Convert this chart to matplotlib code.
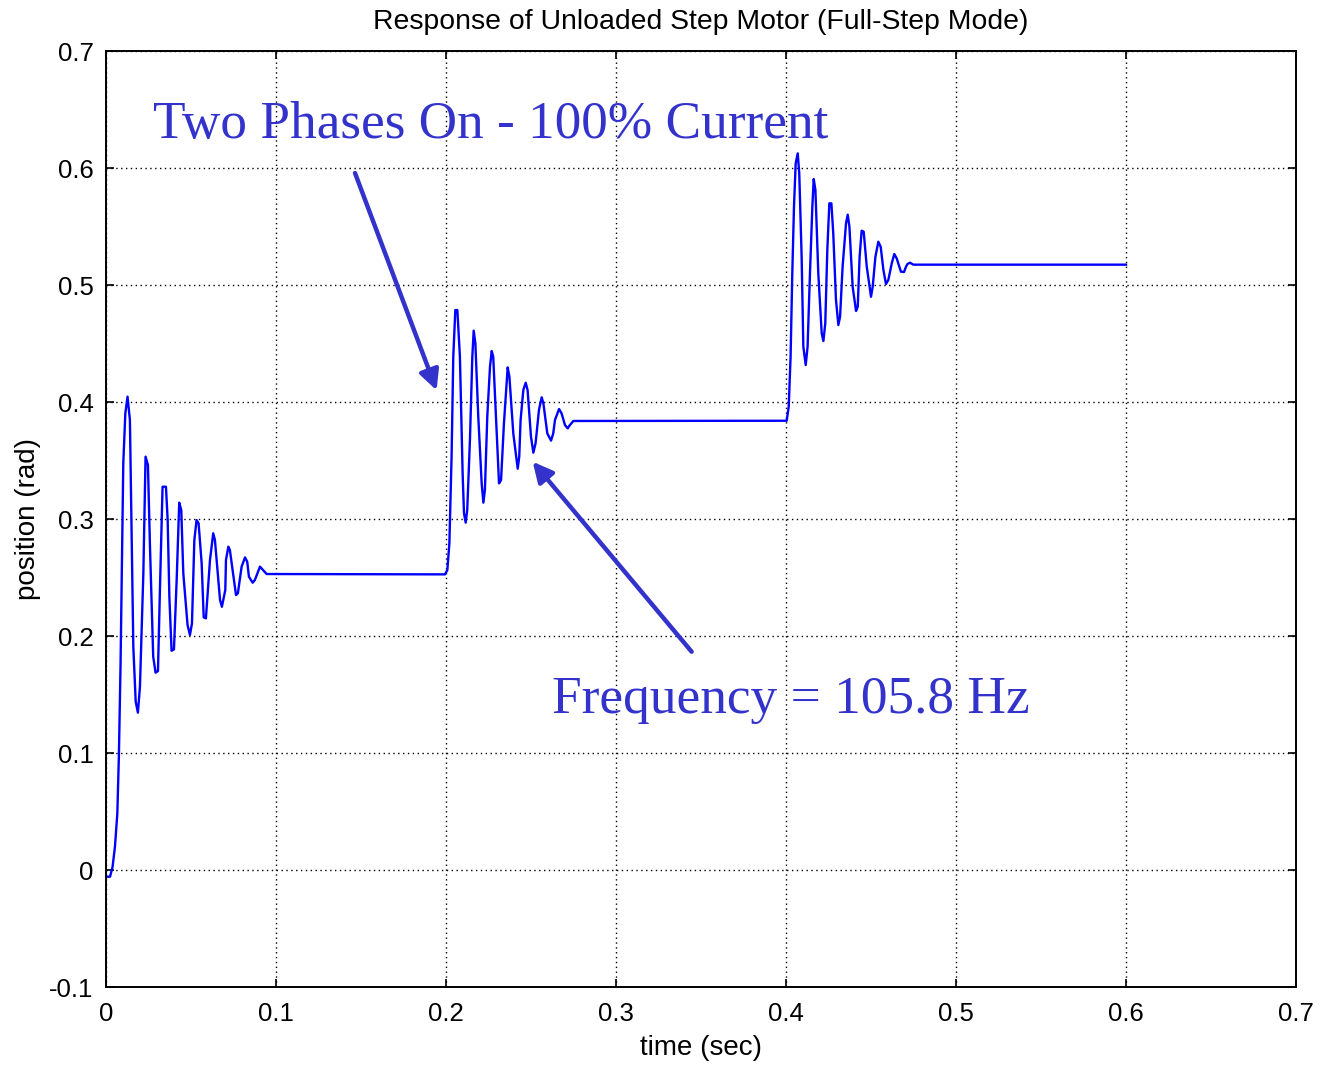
import matplotlib
matplotlib.use("Agg")
import matplotlib.pyplot as plt

# Rotor position of the unloaded step motor, three full steps
time_s = [
    0.0, 0.0024, 0.0039, 0.0053, 0.0067, 0.0076, 0.0086, 0.0102, 0.0114, 0.0127,
    0.0141, 0.0161, 0.0175, 0.0188, 0.0200, 0.0220, 0.0233, 0.0247, 0.0259, 0.0278,
    0.0292, 0.0306, 0.0318, 0.0333, 0.0353, 0.0363, 0.0373, 0.0386, 0.0400, 0.0416,
    0.0431, 0.0443, 0.0455, 0.0480, 0.0494, 0.0506, 0.0520, 0.0533, 0.0545, 0.0563,
    0.0575, 0.0588, 0.0612, 0.0631, 0.0641, 0.0671, 0.0682, 0.0702, 0.0706, 0.0720,
    0.0729, 0.0765, 0.0776, 0.0798, 0.0818, 0.0831, 0.0841, 0.0863, 0.0876, 0.0906,
    0.0945,
    # second step
    0.1994, 0.2008, 0.2020, 0.2033, 0.2043, 0.2055, 0.2067, 0.2082, 0.2098, 0.2106,
    0.2116, 0.2125, 0.2141, 0.2155, 0.2163, 0.2173, 0.2190, 0.2210, 0.2220, 0.2229,
    0.2243, 0.2259, 0.2269, 0.2278, 0.2298, 0.2312, 0.2324, 0.2341, 0.2363, 0.2373,
    0.2396, 0.2422, 0.2431, 0.2439, 0.2455, 0.2469, 0.2480, 0.2500, 0.2514, 0.2527,
    0.2547, 0.2563, 0.2573, 0.2596, 0.2618, 0.2631, 0.2641, 0.2665, 0.2680, 0.2700,
    0.2716, 0.2729, 0.2749,
    # third step
    0.4004, 0.4016, 0.4027, 0.4037, 0.4047, 0.4057, 0.4069, 0.4078, 0.4092, 0.4102,
    0.4116, 0.4127, 0.4141, 0.4155, 0.4163, 0.4173, 0.4190, 0.4210, 0.4220, 0.4231,
    0.4243, 0.4255, 0.4267, 0.4278, 0.4294, 0.4308, 0.4318, 0.4333, 0.4353, 0.4363,
    0.4373, 0.4392, 0.4412, 0.4422, 0.4433, 0.4445, 0.4457, 0.4475, 0.4500, 0.4510,
    0.4526, 0.4543, 0.4557, 0.4573, 0.4588, 0.4602, 0.4622, 0.4637, 0.4651, 0.4676,
    0.4694, 0.4706, 0.4714, 0.4729, 0.4749, 0.6000,
]

position_rad = [
    -0.0057, -0.0057, 0.0028, 0.0199, 0.0484, 0.0969, 0.1766, 0.3476, 0.3903, 0.4046,
    0.3846, 0.1909, 0.1439, 0.1345, 0.1567, 0.2536, 0.3533, 0.3462, 0.2764, 0.1823,
    0.1687, 0.1701, 0.2422, 0.3276, 0.3276, 0.2991, 0.2336, 0.1874, 0.1886, 0.2479,
    0.3140, 0.3077, 0.2536, 0.2094, 0.2009, 0.2108, 0.2821, 0.2991, 0.2963, 0.2621,
    0.2160, 0.2151, 0.2650, 0.2878, 0.2821, 0.2308, 0.2250, 0.2393, 0.2650, 0.2764,
    0.2735, 0.2350, 0.2365, 0.2593, 0.2672, 0.2635, 0.2507, 0.2456, 0.2479, 0.2593,
    0.2530,
    0.2527, 0.2564, 0.2792, 0.3533, 0.4387, 0.4786, 0.4786, 0.4387, 0.3390, 0.3049,
    0.2969, 0.3077, 0.3675, 0.4387, 0.4610, 0.4501, 0.3875, 0.3305, 0.3140, 0.3248,
    0.3875, 0.4302, 0.4436, 0.4387, 0.3761, 0.3305, 0.3333, 0.3818, 0.4296, 0.4217,
    0.3732, 0.3430, 0.3533, 0.3846, 0.4103, 0.4165, 0.4103, 0.3704, 0.3567, 0.3647,
    0.3932, 0.4040, 0.3989, 0.3732, 0.3670, 0.3732, 0.3846, 0.3940, 0.3903, 0.3803,
    0.3775, 0.3803, 0.3838,
    0.3840, 0.3960, 0.4387, 0.5100, 0.5670, 0.6040, 0.6125, 0.5954, 0.5242, 0.4473,
    0.4316, 0.4473, 0.5100, 0.5670, 0.5906, 0.5812, 0.5100, 0.4587, 0.4521, 0.4672,
    0.5299, 0.5698, 0.5698, 0.5442, 0.4872, 0.4658, 0.4729, 0.5157, 0.5527, 0.5601,
    0.5499, 0.4986, 0.4778, 0.4815, 0.5242, 0.5464, 0.5456, 0.5157, 0.4900, 0.4986,
    0.5242, 0.5370, 0.5327, 0.5128, 0.5009, 0.5043, 0.5185, 0.5265, 0.5228, 0.5114,
    0.5111, 0.5157, 0.5179, 0.5191, 0.5174, 0.5174,
]

x_ticks = [0, 0.1, 0.2, 0.3, 0.4, 0.5, 0.6, 0.7]
x_tick_labels = ["0", "0.1", "0.2", "0.3", "0.4", "0.5", "0.6", "0.7"]
y_ticks = [-0.1, 0, 0.1, 0.2, 0.3, 0.4, 0.5, 0.6, 0.7]
y_tick_labels = ["-0.1", "0", "0.1", "0.2", "0.3", "0.4", "0.5", "0.6", "0.7"]

title_text = "Response of Unloaded Step Motor (Full-Step Mode)"
x_label = "time (sec)"
y_label = "position (rad)"
phase_note = "Two Phases On - 100% Current"
freq_note = "Frequency = 105.8 Hz"

note_color = "#3333cc"
sans = ["Liberation Sans", "DejaVu Sans"]
serif = ["Liberation Serif", "DejaVu Serif"]

fig = plt.figure(figsize=(13.21, 10.65), dpi=100)
ax = fig.add_axes([0.0802, 0.0732, 0.9009, 0.8789])

ax.plot(time_s, position_rad, color="#0000ff", lw=1.7, solid_joinstyle="round")

ax.set_xlim(0, 0.7)
ax.set_ylim(-0.1, 0.7)
ax.set_xticks(x_ticks)
ax.set_xticklabels(x_tick_labels, family=sans, fontsize=18.5)
ax.set_yticks(y_ticks)
ax.set_yticklabels(y_tick_labels, family=sans, fontsize=18.5)
ax.tick_params(direction="in", length=6, width=1.2, top=True, right=True,
               colors="black")
ax.tick_params(axis="x", pad=11)
ax.tick_params(axis="y", pad=9)
ax.grid(True, color="black", linestyle=(0, (1, 2.5)), linewidth=1.0)
for sp in ax.spines.values():
    sp.set_linewidth(1.4)

ax.set_title(title_text, family=sans, fontsize=20.4, pad=16)
ax.set_xlabel(x_label, family=sans, fontsize=20, labelpad=6)
ax.set_ylabel(y_label, family=sans, fontsize=20, labelpad=6)

ax.text(0.0277, 0.6256, phase_note, family=serif, fontsize=38.3,
        color=note_color, ha="left", va="baseline")
ax.text(0.2624, 0.1342, freq_note, family=serif, fontsize=38.4,
        color=note_color, ha="left", va="baseline")

arrow_kw = dict(arrowstyle="-|>", color=note_color, lw=3.2,
                mutation_scale=30, shrinkA=0, shrinkB=0)
ax.annotate("", xy=(0.1945, 0.410), xytext=(0.1465, 0.5957),
            arrowprops=arrow_kw)
ax.annotate("", xy=(0.2510, 0.349), xytext=(0.3445, 0.1866),
            arrowprops=arrow_kw)

fig.savefig("out.png", dpi=100)
